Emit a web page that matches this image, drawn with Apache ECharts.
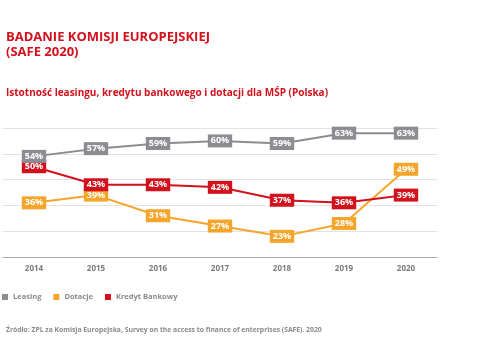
<!DOCTYPE html>
<html>
<head>
<meta charset="utf-8">
<script src="https://cdn.jsdelivr.net/npm/echarts@6/dist/echarts.min.js"></script>
<style>
    html, body {margin: 0; padding: 0; background: #fff;}
    #chart {width: 480px; height: 350px;}
</style>
</head>
<body>
<div id="chart"></div>
<script>
"use strict";
var years = ['2014', '2015', '2016', '2017', '2018', '2019', '2020'];
var leasing = [54, 57, 59, 60, 59, 63, 63];
var dotacje = [36, 39, 31, 27, 23, 28, 49];
var kredyt = [50, 43, 43, 42, 37, 36, 39];

var FONT = '"Open Sans", "Noto Sans", sans-serif';
var RED = '#d3111c', ORANGE = '#f5a52a', GRAY = '#8b8d90';

function lineSeries(name, data, color) {
    return {
        name: name, type: 'line', data: data,
        symbol: 'circle', symbolSize: 1,
        lineStyle: {color: color, width: 2},
        itemStyle: {color: color},
        label: {
            show: true, position: 'inside', formatter: '{c}%',
            color: '#fff', fontFamily: FONT, fontSize: 9, fontWeight: 'bold',
            backgroundColor: color, padding: [2, 3, 2, 3]
        },
        z: name === 'Leasing' ? 3 : 2
    };
}

var chart = echarts.init(document.getElementById('chart'));
chart.setOption({
    animation: false,
    textStyle: {fontFamily: FONT},
    title: [
        {text: 'BADANIE KOMISJI EUROPEJSKIEJ\n(SAFE 2020)', left: 1, top: 25,
            textStyle: {color: RED, fontSize: 13, fontWeight: 'bold', lineHeight: 15, fontFamily: FONT}},
        {text: 'Istotność leasingu, kredytu bankowego i dotacji dla MŚP (Polska)', left: 1, top: 83,
            textStyle: {color: RED, fontSize: 10, fontWeight: 'bold', fontFamily: FONT}},
        {text: 'Źródło: ZPL za Komisja Europejska, Survey on the access to finance of enterprises (SAFE). 2020', left: 1, top: 322,
            textStyle: {color: '#8a8a8a', fontSize: 6.8, fontWeight: 'bold', fontFamily: FONT}}
    ],
    legend: {
        left: -3, top: 288, icon: 'rect', itemWidth: 6, itemHeight: 6, itemGap: 12,
        textStyle: {color: '#8a8a8a', fontSize: 7.5, fontWeight: 'bold', fontFamily: FONT},
        data: ['Leasing', 'Dotacje', 'Kredyt Bankowy']
    },
    grid: {left: 3, right: 43, top: 128, bottom: 93, containLabel: false},
    xAxis: {
        type: 'category', data: years, boundaryGap: true,
        axisLine: {lineStyle: {color: '#a9a9a9', width: 1}},
        axisTick: {show: false},
        axisLabel: {color: '#7a7a7a', fontSize: 8, fontWeight: 'bold', margin: 8}
    },
    yAxis: {
        type: 'value', min: 15, max: 65, interval: 10,
        axisLabel: {show: false}, axisLine: {show: false}, axisTick: {show: false},
        splitLine: {lineStyle: {color: '#e3e3e3', width: 1}}
    },
    series: [
        lineSeries('Leasing', leasing, GRAY),
        lineSeries('Dotacje', dotacje, ORANGE),
        lineSeries('Kredyt Bankowy', kredyt, RED)
    ]
});
</script>
</body>
</html>
